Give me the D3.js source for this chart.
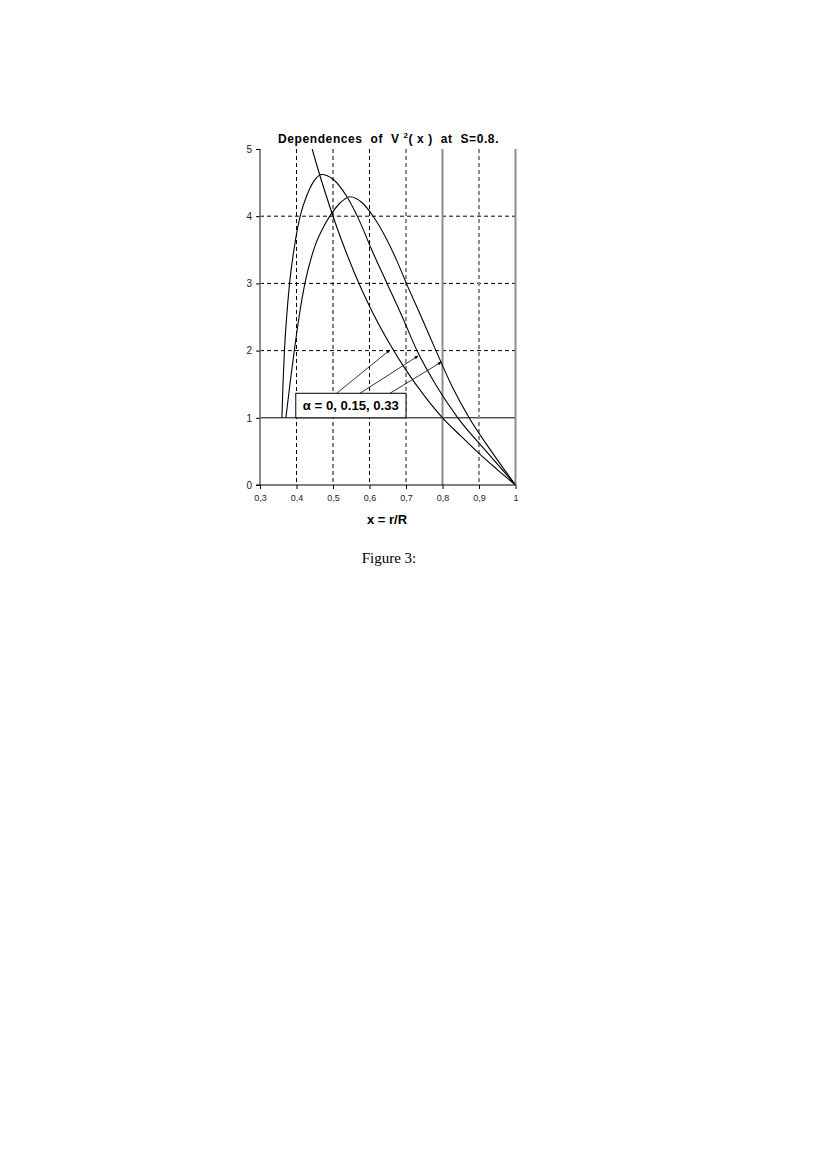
<!DOCTYPE html>
<html>
  <head>
    <meta charset="utf-8">
    <title>Dependences of V^2(x) at S=0.8</title>
    <script src="https://d3js.org/d3.v7.min.js"></script>
    <style>
      body { margin: 0; background: #fff; }
    </style>
  </head>
  <body>
    <div id="chart"></div>
    <script>
      // values
      const xTicks = [0.3, 0.4, 0.5, 0.6, 0.7, 0.8, 0.9, 1.0];
      const xTickLabels = ["0,3", "0,4", "0,5", "0,6", "0,7", "0,8", "0,9", "1"];
      const yTicks = [0, 1, 2, 3, 4, 5];

      // alpha = 0
      const curveA = [[0.440, 5.06], [0.443, 5.0], [0.46, 4.68], [0.48, 4.33], [0.50, 4.0], [0.53, 3.55],
        [0.56, 3.14], [0.60, 2.66], [0.65, 2.15], [0.70, 1.71], [0.75, 1.33], [0.80, 1.0],
        [0.85, 0.73], [0.90, 0.47], [0.95, 0.23], [1.0, 0]];
      // alpha = 0.15
      const curveB = [[0.360, 1.0], [0.363, 1.5], [0.367, 2.0], [0.373, 2.5], [0.381, 3.0], [0.393, 3.5],
        [0.41, 4.0], [0.43, 4.33], [0.45, 4.54], [0.469, 4.62], [0.50, 4.55], [0.537, 4.30],
        [0.57, 3.96], [0.606, 3.50], [0.648, 3.0], [0.69, 2.5], [0.73, 2.0], [0.784, 1.47],
        [0.842, 1.0], [0.92, 0.5], [1.0, 0]];
      // alpha = 0.33
      const curveC = [[0.371, 1.0], [0.382, 1.5], [0.394, 2.0], [0.407, 2.5], [0.423, 3.0], [0.447, 3.5],
        [0.48, 3.9], [0.495, 4.03], [0.52, 4.2], [0.546, 4.29], [0.58, 4.2], [0.61, 4.0],
        [0.674, 3.35], [0.701, 3.0], [0.742, 2.5], [0.782, 2.0], [0.826, 1.47], [0.873, 1.0],
        [0.934, 0.5], [1.0, 0]];

      // label box and arrows (data units)
      const labelBox = { x0: 0.398, x1: 0.70, y0: 1.0, y1: 1.365 };
      const arrows = [
        [[0.51, 1.365], [0.656, 2.01]],
        [[0.574, 1.365], [0.733, 1.92]],
        [[0.656, 1.365], [0.797, 1.83]]
      ];

      const width = 828;
      const height = 1170;

      const svg = d3.select("#chart")
        .append("svg")
        .attr("width", width)
        .attr("height", height);

      const x = d3.scaleLinear().domain([0.3, 1.0]).range([260, 515.5]);
      const y = d3.scaleLinear().domain([0, 5]).range([485, 149]);

      svg.append("defs").append("clipPath").attr("id", "plot")
        .append("rect")
        .attr("x", x(0.3)).attr("y", y(5))
        .attr("width", x(1) - x(0.3)).attr("height", y(0) - y(5));

      svg.append("defs").append("marker")
        .attr("id", "head")
        .attr("viewBox", "0 0 10 10")
        .attr("refX", 9).attr("refY", 5)
        .attr("markerWidth", 7).attr("markerHeight", 5)
        .attr("orient", "auto")
        .append("path").attr("d", "M0,1 L10,5 L0,9 z").attr("fill", "#000");

      // horizontal grid lines
      yTicks.filter(d => d > 0 && d < 5).forEach(function(d) {
        svg.append("line")
          .attr("x1", x(0.3)).attr("x2", x(1))
          .attr("y1", y(d)).attr("y2", y(d))
          .attr("stroke", "#000")
          .attr("stroke-width", 1)
          .attr("stroke-dasharray", d === 1 ? null : "4,3");
      });

      // vertical grid lines
      xTicks.forEach(function(d) {
        let color = "#000", w = 1, dash = "4,3";
        if (d === 0.7 || d === 0.9) { color = "#8c8c8c"; w = 2; dash = "4,3"; }
        if (d === 0.8 || d === 0.3 || d === 1.0) { color = "#8c8c8c"; w = 2; dash = null; }
        svg.append("line")
          .attr("x1", x(d)).attr("x2", x(d))
          .attr("y1", y(5)).attr("y2", y(0))
          .attr("stroke", color)
          .attr("stroke-width", w)
          .attr("stroke-dasharray", dash);
      });

      // x axis
      const xAxis = svg.append("g")
        .attr("transform", "translate(0," + y(0) + ")")
        .call(d3.axisBottom(x).tickValues(xTicks).tickSize(4).tickPadding(6)
          .tickFormat((d, i) => xTickLabels[i]));
      xAxis.select(".domain").attr("d", "M" + (x(0.3) - 4) + ",0H" + x(1));
      xAxis.selectAll("text")
        .attr("font-family", "Liberation Sans, Arial, sans-serif")
        .attr("font-size", 9)
        .attr("fill", "#222");

      // y axis
      const yAxis = svg.append("g")
        .attr("transform", "translate(" + x(0.3) + ",0)")
        .call(d3.axisLeft(y).tickValues(yTicks).tickSize(4).tickPadding(4).tickFormat(d3.format("d")));
      yAxis.select(".domain").remove();
      yAxis.selectAll("text")
        .attr("font-family", "Liberation Sans, Arial, sans-serif")
        .attr("font-size", 10)
        .attr("fill", "#222");

      // curves
      const line = d3.line()
        .x(d => x(d[0]))
        .y(d => y(d[1]))
        .curve(d3.curveMonotoneX);

      const curves = svg.append("g").attr("clip-path", "url(#plot)");
      [curveA, curveB, curveC].forEach(function(c) {
        curves.append("path")
          .attr("d", line(c))
          .attr("fill", "none")
          .attr("stroke", "#000")
          .attr("stroke-width", 1.1);
      });

      // arrows
      arrows.forEach(function(a) {
        svg.append("line")
          .attr("x1", x(a[0][0])).attr("y1", y(a[0][1]))
          .attr("x2", x(a[1][0])).attr("y2", y(a[1][1]))
          .attr("stroke", "#000")
          .attr("stroke-width", 0.8)
          .attr("marker-end", "url(#head)");
      });

      // label box
      svg.append("rect")
        .attr("x", x(labelBox.x0)).attr("y", y(labelBox.y1))
        .attr("width", x(labelBox.x1) - x(labelBox.x0))
        .attr("height", y(labelBox.y0) - y(labelBox.y1))
        .attr("fill", "#fff")
        .attr("stroke", "#000")
        .attr("stroke-width", 1);
      svg.append("text")
        .attr("x", (x(labelBox.x0) + x(labelBox.x1)) / 2)
        .attr("y", y(labelBox.y1) + 17)
        .attr("text-anchor", "middle")
        .attr("font-family", "Liberation Sans Narrow, Liberation Sans, Arial, sans-serif")
        .attr("font-weight", "bold")
        .attr("font-size", 13)
        .attr("textLength", 96)
        .attr("lengthAdjust", "spacingAndGlyphs")
        .text("\u03b1 = 0, 0.15, 0.33");

      // title
      const title = svg.append("text")
        .attr("x", 278)
        .attr("y", 143)
        .attr("font-family", "Liberation Sans, Arial, sans-serif")
        .attr("font-weight", "bold")
        .attr("font-size", 12)
        .attr("letter-spacing", 0.6)
        .style("white-space", "pre");
      title.append("tspan").text("Dependences  of  V ");
      title.append("tspan").attr("font-size", 8).attr("dy", -5).text("2");
      title.append("tspan").attr("dy", 5).text("( x )  at  S=0.8.");

      // axis title
      svg.append("text")
        .attr("x", 387)
        .attr("y", 524)
        .attr("text-anchor", "middle")
        .attr("font-family", "Liberation Sans, Arial, sans-serif")
        .attr("font-weight", "bold")
        .attr("font-size", 13)
        .text("x = r/R");

      // caption
      svg.append("text")
        .attr("x", 389)
        .attr("y", 563)
        .attr("text-anchor", "middle")
        .attr("font-family", "Liberation Serif, DejaVu Serif, serif")
        .attr("font-size", 15)
        .text("Figure 3:");
    </script>
  </body>
</html>
